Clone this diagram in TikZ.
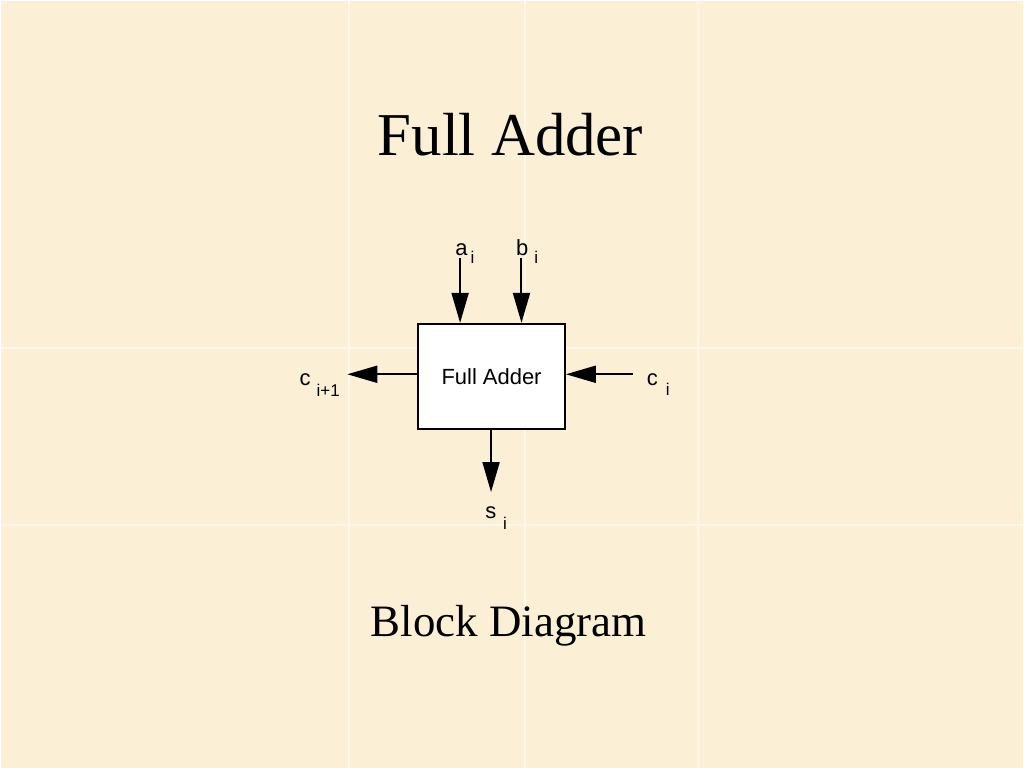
\documentclass[tikz,border=0pt]{standalone}
\usepackage{fontspec}
\setmainfont{Liberation Serif}
\setsansfont{Liberation Sans}
\usetikzlibrary{positioning,arrows.meta}

\definecolor{paper}{RGB}{251,240,214}
\definecolor{seam}{RGB}{254,248,236}

\newcommand{\lblfont}{\sffamily\fontsize{22}{24}\selectfont}
\newcommand{\subfont}{\sffamily\fontsize{17}{18}\selectfont}
% label with a lowered subscript: #1 gap, #2 drop, #3 main, #4 sub
\newcommand{\sublbl}[4]{#3\hspace{#1}\raisebox{-#2}{\subfont #4}}

\begin{document}
\begin{tikzpicture}[x=1pt,y=-1pt,
    sig/.style={line width=2pt,-{Triangle[length=30pt,width=17pt]}},
    lbl/.style={font=\lblfont,inner sep=0pt,anchor=base west},
    title/.style={inner sep=0pt,anchor=base}]
    % background
    \fill[paper] (0,0) rectangle (1024,768);
    \foreach \x in {349,525,698}
      \draw[seam,line width=2pt] (\x,0) -- (\x,768);
    \foreach \y in {348,525}
      \draw[seam,line width=2pt] (0,\y) -- (1024,\y);
    \useasboundingbox (0,0) rectangle (1024,768);

    \node (title) [title,font=\fontsize{61}{61}\selectfont] at (510.5,155) {Full Adder};
    \node (caption) [title,font=\fontsize{45}{45}\selectfont] at (508.5,637) {Block Diagram};

    \node (fa) [draw,line width=2pt,fill=white,minimum width=147pt,minimum height=105pt,
      font=\lblfont] at (491.5,376) {Full Adder};

    \node (ai) [lbl] at (455,255) {\sublbl{3pt}{8pt}{a}{i}};
    \node (bi) [lbl] at (516,255) {\sublbl{6pt}{8pt}{b}{i}};
    \node (co) [lbl] at (299,385) {\sublbl{6pt}{11.5pt}{c}{i+1}};
    \node (ci) [lbl] at (647,385) {\sublbl{8pt}{10pt}{c}{i}};
    \node (si) [lbl] at (485,519) {\sublbl{7pt}{11pt}{s}{i}};

    \coordinate (aTop) at (460,258);
    \coordinate (bTop) at (521.5,258);
    \coordinate (cOut) at (347,374);
    \coordinate (cIn) at (633,374);
    \coordinate (sOut) at (491,492);

    \draw[sig] (aTop) -- (aTop |- fa.north);
    \draw[sig] (bTop) -- (bTop |- fa.north);
    \draw[sig] (fa.west |- cOut) -- (cOut);
    \draw[sig] (cIn) -- (fa.east |- cIn);
    \draw[sig] (fa.south -| sOut) -- (sOut);
\end{tikzpicture}
\end{document}
